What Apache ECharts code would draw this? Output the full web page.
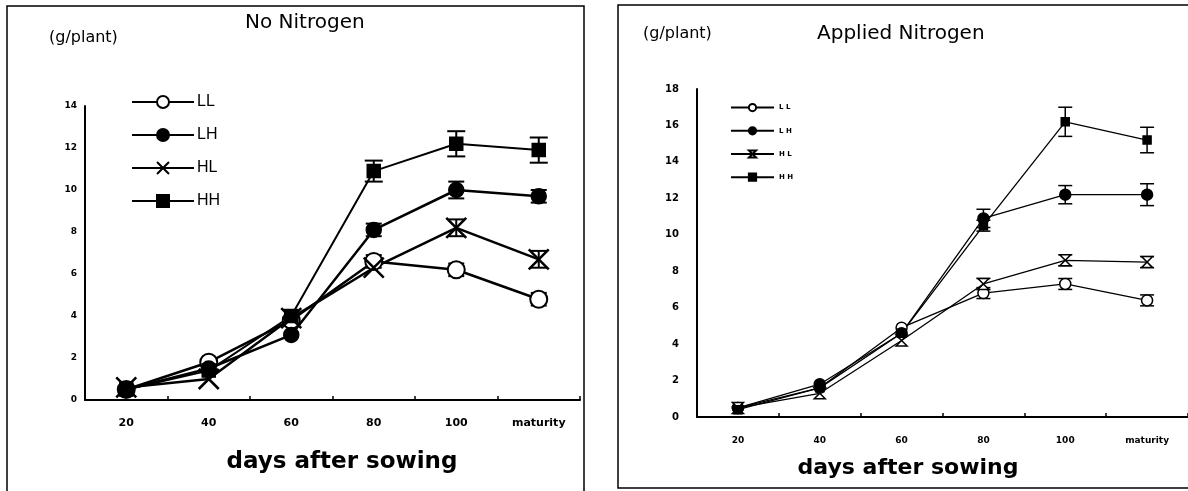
<!DOCTYPE html>
<html><head><meta charset="utf-8">
<script src="https://cdn.jsdelivr.net/npm/echarts@6/dist/echarts.min.js"></script>
<style>html,body{margin:0;padding:0;background:#fff;}#c{width:1188px;height:491px;}</style>
</head><body><div id="c"></div>
<script>
var categories = ['20','40','60','80','100','maturity'];
var yTicksNoN = [0,2,4,6,8,10,12,14];
var yTicksN = [0,2,4,6,8,10,12,14,16,18];

// No Nitrogen (g/plant)
var LL_noN = [0.5, 1.8, 3.8, 6.6, 6.2, 4.8];
var LH_noN = [0.5, 1.5, 3.1, 8.1, 10.0, 9.7];
var HL_noN = [0.6, 1.0, 3.9, 6.3, 8.2, 6.7];
var HH_noN = [0.5, 1.4, 4.0, 10.9, 12.2, 11.9];
var LL_noN_err = [0, 0, 0, 0.3, 0.3, 0.3];
var LH_noN_err = [0, 0, 0, 0.3, 0.4, 0.3];
var HL_noN_err = [0, 0, 0, 0, 0.4, 0.4];
var HH_noN_err = [0, 0, 0, 0.5, 0.6, 0.6];

// Applied Nitrogen (g/plant)
var LL_N = [0.5, 1.6, 4.9, 6.8, 7.3, 6.4];
var LH_N = [0.5, 1.8, 4.6, 10.9, 12.2, 12.2];
var HL_N = [0.5, 1.3, 4.2, 7.3, 8.6, 8.5];
var HH_N = [0.4, 1.6, 4.6, 10.5, 16.2, 15.2];
var LL_N_err = [0, 0, 0, 0.3, 0.3, 0.3];
var LH_N_err = [0, 0, 0, 0.5, 0.5, 0.6];
var HL_N_err = [0, 0, 0, 0.3, 0.3, 0.3];
var HH_N_err = [0, 0, 0, 0.3, 0.8, 0.7];

var X_PATH = 'path://M0,0L10,10M10,0L0,10';
var XCAP_PATH = 'path://M0,0L10,0L0,10L10,10Z';

function errData(vals, errs){
  var out = [];
  for (var i = 0; i < vals.length; i++) if (errs[i] > 0) out.push([i, vals[i]-errs[i], vals[i]+errs[i]]);
  return out;
}
function errSeries(vals, errs, gi, cap, lw){
  return {
    type:'custom', xAxisIndex:gi, yAxisIndex:gi, silent:true, z:1,
    data: errData(vals, errs),
    renderItem: function(params, api){
      var lo = api.coord([api.value(0), api.value(1)]);
      var hi = api.coord([api.value(0), api.value(2)]);
      var st = {stroke:'#000', lineWidth:lw};
      return {type:'group', children:[
        {type:'line', shape:{x1:lo[0],y1:lo[1],x2:hi[0],y2:hi[1]}, style:st},
        {type:'line', shape:{x1:lo[0]-cap,y1:lo[1],x2:lo[0]+cap,y2:lo[1]}, style:st},
        {type:'line', shape:{x1:hi[0]-cap,y1:hi[1],x2:hi[0]+cap,y2:hi[1]}, style:st}
      ]};
    }
  };
}
function lineSeries(name, data, gi, symbol, size, open, lw, bw){
  return {
    name:name, type:'line', xAxisIndex:gi, yAxisIndex:gi, data:data,
    symbol:symbol, symbolSize:size, showAllSymbol:true, z:3,
    lineStyle:{color:'#000', width:lw},
    itemStyle:{color: open ? '#fff' : '#000', borderColor:'#000', borderWidth: bw},
    emphasis:{disabled:true}
  };
}

var chart = echarts.init(document.getElementById('c'), null, {renderer:'canvas'});
var axisLabelY = function(ticks){ return function(v){ return ticks.indexOf(v) >= 0 ? String(v) : ''; }; };

var option = {
  backgroundColor:'#fff',
  animation:false,
  textStyle:{fontFamily:'Liberation Sans'},
  title:[
    {text:'No Nitrogen', left:245, top:13, padding:0, textStyle:{fontSize:20, fontWeight:'normal', color:'#000', fontFamily:'DejaVu Sans'}},
    {text:'Applied Nitrogen', left:817, top:24, padding:0, textStyle:{fontSize:20, fontWeight:'normal', color:'#000', fontFamily:'DejaVu Sans'}}
  ],
  legend:[
    {orient:'vertical', left:131, top:94, padding:0, itemWidth:62, itemHeight:15, itemGap:17,
     data:['LL','LH','HL','HH'], selectedMode:false,
     textStyle:{fontSize:16, color:'#000', fontFamily:'Liberation Sans', padding:[0,0,0,-2]}},
    {orient:'vertical', left:730, top:103, padding:0, itemWidth:43, itemHeight:9, itemGap:14,
     data:['LL ','LH ','HL ','HH '], selectedMode:false,
     formatter:function(n){return n.trim().split('').join(' ');},
     textStyle:{fontSize:7, fontWeight:'bold', color:'#000', fontFamily:'DejaVu Sans'}}
  ],
  grid:[
    {left:85, top:106, width:495, height:294},
    {left:697, top:89, width:498, height:328}
  ],
  xAxis:[0,1].map(function(gi){
    return {type:'category', gridIndex:gi, data:categories, boundaryGap:true,
      axisLine:{lineStyle:{color:'#000', width:2}},
      axisTick:{show:true, inside:true, length:4, lineStyle:{color:'#000', width:1.5}},
      axisLabel:{color:'#000', fontWeight:'bold', fontFamily:'DejaVu Sans', fontSize: gi===0 ? 11 : 9, margin: gi===0 ? 18 : 19},
      splitLine:{show:false}};
  }),
  yAxis:[
    {type:'value', gridIndex:0, min:0, max:14, interval:2,
     axisLine:{show:true, lineStyle:{color:'#000', width:2}}, axisTick:{show:false}, splitLine:{show:false},
     axisLabel:{color:'#000', fontWeight:'bold', fontSize:9, fontFamily:'DejaVu Sans', margin:8, formatter:axisLabelY(yTicksNoN)}},
    {type:'value', gridIndex:1, min:0, max:18, interval:2,
     axisLine:{show:true, lineStyle:{color:'#000', width:2}}, axisTick:{show:false}, splitLine:{show:false},
     axisLabel:{color:'#000', fontWeight:'bold', fontSize:10, fontFamily:'DejaVu Sans', margin:18, formatter:axisLabelY(yTicksN)}}
  ],
  graphic:[
    {type:'rect', shape:{x:7, y:6, width:577, height:500}, style:{fill:'none', stroke:'#000', lineWidth:1.5}, silent:true},
    {type:'rect', shape:{x:618, y:5, width:600, height:483}, style:{fill:'none', stroke:'#000', lineWidth:1.5}, silent:true},
    {type:'text', left:49, top:30, style:{text:'(g/plant)', fontSize:16, fill:'#000', fontFamily:'DejaVu Sans'}},
    {type:'text', left:643, top:26, style:{text:'(g/plant)', fontSize:16, fill:'#000', fontFamily:'DejaVu Sans'}},
    {type:'text', x:342, y:462, style:{text:'days after sowing', fontSize:23, fontWeight:'bold', fill:'#000', fontFamily:'DejaVu Sans', align:'center', verticalAlign:'middle'}},
    {type:'text', x:908, y:468, style:{text:'days after sowing', fontSize:22, fontWeight:'bold', fill:'#000', fontFamily:'DejaVu Sans', align:'center', verticalAlign:'middle'}}
  ],
  series:[
    errSeries(LL_noN, LL_noN_err, 0, 8, 2),
    errSeries(LH_noN, LH_noN_err, 0, 8, 2),
    errSeries(HL_noN, HL_noN_err, 0, 8, 2),
    errSeries(HH_noN, HH_noN_err, 0, 9, 2),
    lineSeries('LL', LL_noN, 0, 'circle', 17, true, 2.5, 2),
    lineSeries('LH', LH_noN, 0, 'circle', 15, false, 2.5, 1.5),
    lineSeries('HL', HL_noN, 0, X_PATH, 20, false, 2.5, 2.5),
    lineSeries('HH', HH_noN, 0, 'rect', 13, false, 2, 1.5),
    errSeries(LL_N, LL_N_err, 1, 7, 1.5),
    errSeries(LH_N, LH_N_err, 1, 7, 1.5),
    errSeries(HL_N, HL_N_err, 1, 7, 1.5),
    errSeries(HH_N, HH_N_err, 1, 7, 1.5),
    lineSeries('LL ', LL_N, 1, 'circle', 11, true, 1.3, 1.5),
    lineSeries('LH ', LH_N, 1, 'circle', 11, false, 1.3, 1.5),
    lineSeries('HL ', HL_N, 1, XCAP_PATH, 11, true, 1.3, 1.5),
    lineSeries('HH ', HH_N, 1, 'rect', 8, false, 1.3, 1.5)
  ]
};
chart.setOption(option);
</script>
</body></html>
